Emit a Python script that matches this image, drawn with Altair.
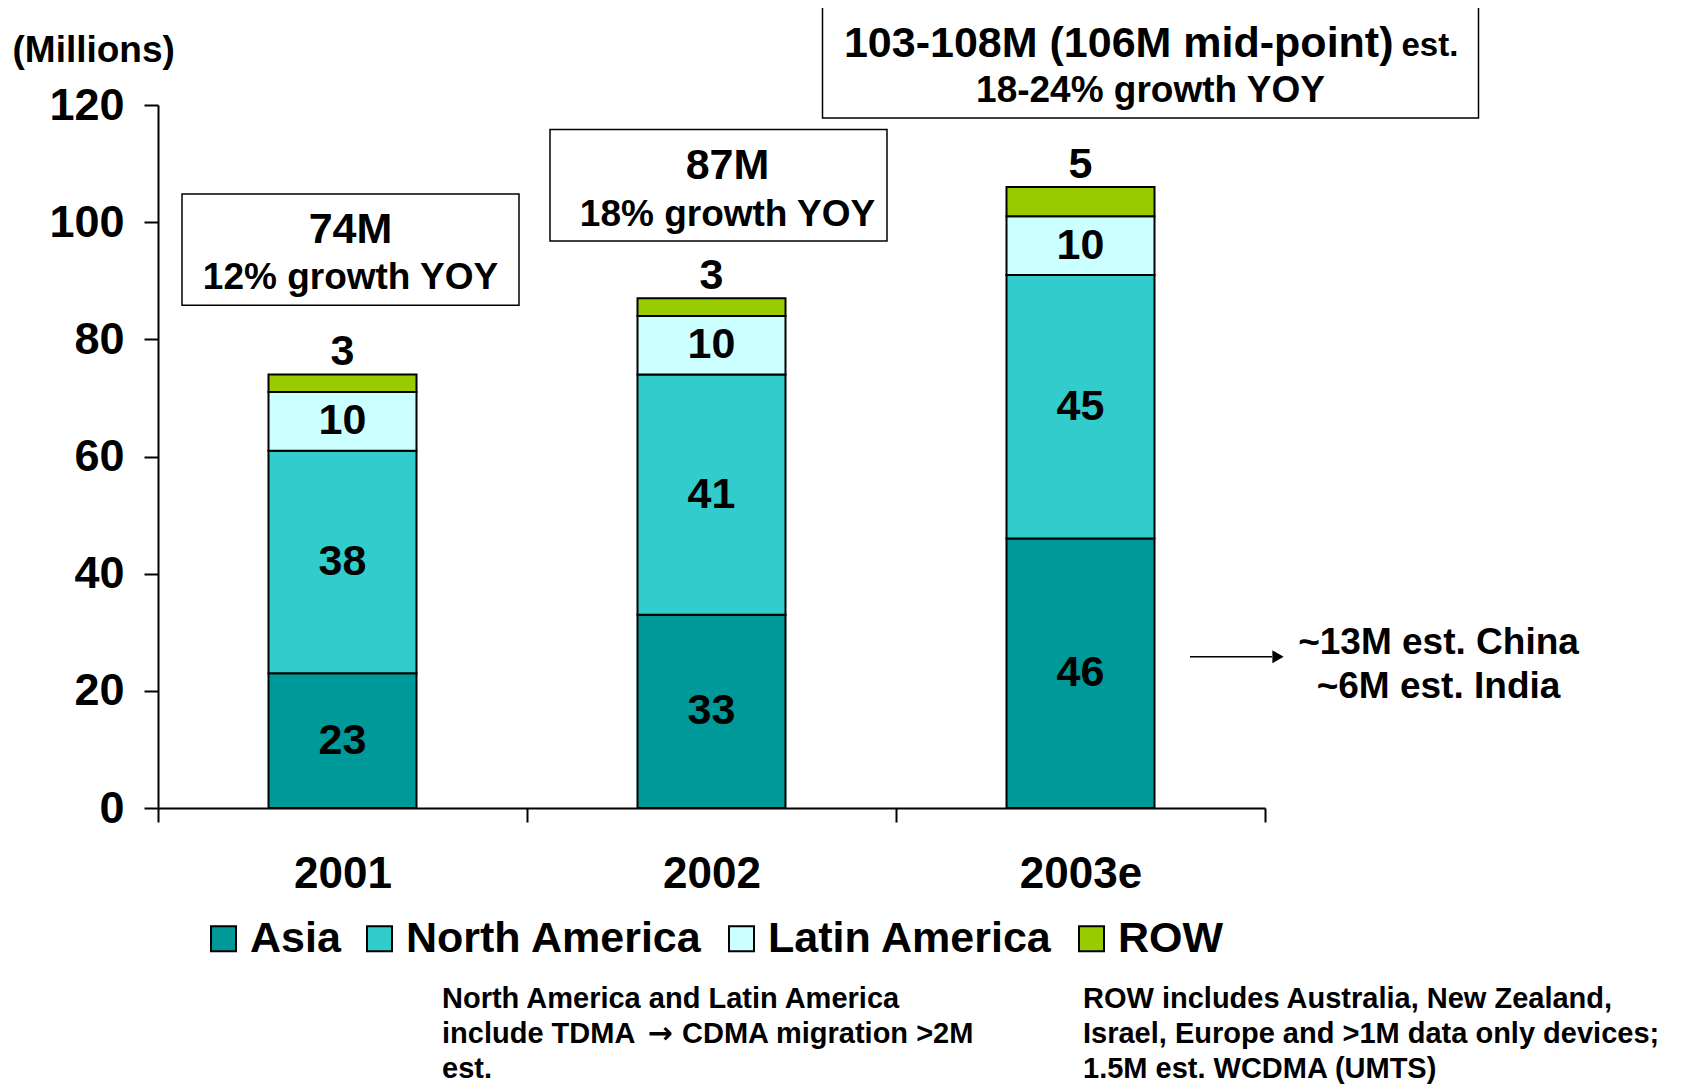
import altair as alt
import pandas as pd

# ---------------- data ----------------
years = ["2001", "2002", "2003e"]
regions = ["Asia", "North America", "Latin America", "ROW"]
asia = [23, 33, 46]
north_america = [38, 41, 45]
latin_america = [10, 10, 10]
row_vals = [3, 3, 5]
y_ticks = [0, 20, 40, 60, 80, 100, 120]
region_colors = ["#009999", "#33CCCC", "#CCFFFF", "#99CC00"]

total_labels = ["74M", "87M", "103-108M (106M mid-point)"]
growth_labels = ["12% growth YOY", "18% growth YOY", "18-24% growth YOY"]
est_suffix = "est."
asia_note = ["~13M est. China", "~6M est. India"]
note_left_1 = "North America and Latin America"
note_left_2a = "include TDMA"
note_arrow = "\u2192"
note_left_2b = "CDMA migration >2M"
note_left_3 = "est."
note_right = ["ROW includes Australia, New Zealand,",
              "Israel, Europe and >1M data only devices;",
              "1.5M est. WCDMA (UMTS)"]
y_title = "(Millions)"

series = [asia, north_america, latin_america, row_vals]
records = []
for ri, (reg, vals) in enumerate(zip(regions, series)):
    for yr, v in zip(years, vals):
        records.append({"year": yr, "region": reg, "value": v, "idx": ri})
df = pd.DataFrame(records)

# ---------------- layout / style ----------------
FONT = "Liberation Sans"
W, H = 1107, 703
BAR_W = 148
x_scale = alt.Scale(domain=years, paddingInner=0, paddingOuter=0)
y_scale = alt.Scale(domain=[0, 120], nice=False)

x_axis = alt.Axis(title=None, labelAngle=0, tickBand="extent", tickSize=14,
                  tickWidth=2, tickColor="black", domainColor="black",
                  domainWidth=2, labelFont=FONT, labelFontWeight="bold",
                  labelFontSize=44, labelColor="black", labelPadding=30)
y_axis = alt.Axis(values=y_ticks, grid=False, tickSize=14, tickWidth=2,
                  tickColor="black", domainColor="black", domainWidth=2,
                  labelFont=FONT, labelFontWeight="bold", labelFontSize=45,
                  labelColor="black", labelPadding=20,
                  title=y_title, titleAngle=0, titleX=-146, titleY=-55,
                  titleAlign="left", titleBaseline="middle", titleFont=FONT,
                  titleFontWeight="bold", titleFontSize=37, titleColor="black")


def X():
    return alt.X("year:N", sort=years, scale=x_scale, axis=x_axis)


def Yq(field, **kw):
    return alt.Y(field, scale=y_scale, axis=y_axis, **kw)


legend = alt.Legend(title=None, orient="none", legendX=44, legendY=812,
                    direction="horizontal", symbolType="square",
                    symbolSize=625, symbolStrokeColor="black",
                    symbolStrokeWidth=2, symbolOpacity=1,
                    labelFont=FONT, labelFontWeight="bold", labelFontSize=43,
                    labelColor="black", labelOffset=5, columnPadding=17,
                    padding=0, labelLimit=600)

bars = alt.Chart(df).mark_bar(stroke="black", strokeWidth=2, width=BAR_W).encode(
    x=X(),
    y=Yq("value:Q", stack="zero"),
    color=alt.Color("region:N", sort=regions,
                    scale=alt.Scale(domain=regions, range=region_colors),
                    legend=legend),
    order=alt.Order("idx:Q", sort="ascending"),
)

stacked = alt.Chart(df).transform_stack(
    stack="value", groupby=["year"], sort=[alt.SortField("idx")],
    as_=["y0", "y1"]
).transform_calculate(mid="(datum.y0 + datum.y1) / 2")

seg_labels = stacked.transform_filter("datum.region != 'ROW'").mark_text(
    font=FONT, fontWeight="bold", fontSize=43, baseline="middle",
    color="black").encode(x=X(), y=Yq("mid:Q"), text="value:Q")

row_labels = stacked.transform_filter("datum.region == 'ROW'").mark_text(
    font=FONT, fontWeight="bold", fontSize=43, baseline="middle", dy=-22,
    color="black").encode(x=X(), y=Yq("y1:Q"), text="value:Q")

layers = [bars, seg_labels, row_labels]

# annotation boxes (data-unit vertical extents, pixel widths/offsets)
box_top = [104.8, 115.8, 137.0]
box_bottom = [85.8, 96.8, 117.8]
box_w = [337, 337, 656]
box_dx = [8, 7, 70]
for i, yr in enumerate(years):
    bdf = pd.DataFrame({"year": [yr], "top": [box_top[i]], "bottom": [box_bottom[i]]})
    layers.append(
        alt.Chart(bdf).mark_bar(width=box_w[i], xOffset=box_dx[i], color="white",
                                stroke="black", strokeWidth=1.5).encode(
            x=X(), y=Yq("top:Q"), y2="bottom:Q"))


def label(year, yv, txt, dx, size, align="center"):
    d = pd.DataFrame({"year": [year], "y": [yv], "t": [txt]})
    return alt.Chart(d).mark_text(font=FONT, fontWeight="bold", fontSize=size,
                                  align=align, baseline="middle", dx=dx,
                                  color="black").encode(
        x=X(), y=Yq("y:Q"), text="t:N")


layers += [
    label(years[0], 98.6, total_labels[0], 8, 43),
    label(years[0], 90.5, growth_labels[0], 8, 37),
    label(years[1], 109.6, total_labels[1], 16, 43),
    label(years[1], 101.3, growth_labels[1], 16, 37),
    label(years[2], 130.4, total_labels[2], 313, 43, "right"),
    label(years[2], 130.0, est_suffix, 321, 33, "left"),
    label(years[2], 122.4, growth_labels[2], 70, 37),
    label(years[2], 28.2, asia_note[0], 358, 37),
    label(years[2], 20.7, asia_note[1], 358, 37),
]

# arrow pointing to the China / India note
adf = pd.DataFrame({"y": [25.8]})
layers.append(alt.Chart(adf).mark_rule(color="black", strokeWidth=1.5).encode(
    x=alt.value(1032), x2=alt.value(1114), y=Yq("y:Q")))
layers.append(alt.Chart(adf).mark_point(shape="triangle-right", filled=True,
                                        color="black", size=170, opacity=1).encode(
    x=alt.value(1120), y=Yq("y:Q")))


def px_text(txt, xp, yp, size, font=FONT, align="left"):
    d = pd.DataFrame({"t": [txt]})
    return alt.Chart(d).mark_text(font=font, fontWeight="bold", fontSize=size,
                                  align=align, baseline="middle",
                                  color="black").encode(
        x=alt.value(xp), y=alt.value(yp), text="t:N")


LH = 35.0
NY = 894
layers += [
    px_text(note_left_1, 284, NY, 29),
    px_text(note_left_2a, 284, NY + LH, 29),
    px_text(note_arrow, 502, NY + LH, 30, font="DejaVu Sans", align="center"),
    px_text(note_left_2b, 524, NY + LH, 29),
    px_text(note_left_3, 284, NY + 2 * LH, 29),
]
for k, line in enumerate(note_right):
    layers.append(px_text(line, 925, NY + k * LH, 29))

chart = alt.layer(*layers).properties(
    width=W, height=H,
    padding={"left": 150, "top": 97, "right": 400, "bottom": 278},
    autosize=alt.AutoSizeParams(type="none"),
).configure(font=FONT).configure_view(stroke=None)

chart.save("out.html", embed_options={"renderer": "svg", "actions": False})
